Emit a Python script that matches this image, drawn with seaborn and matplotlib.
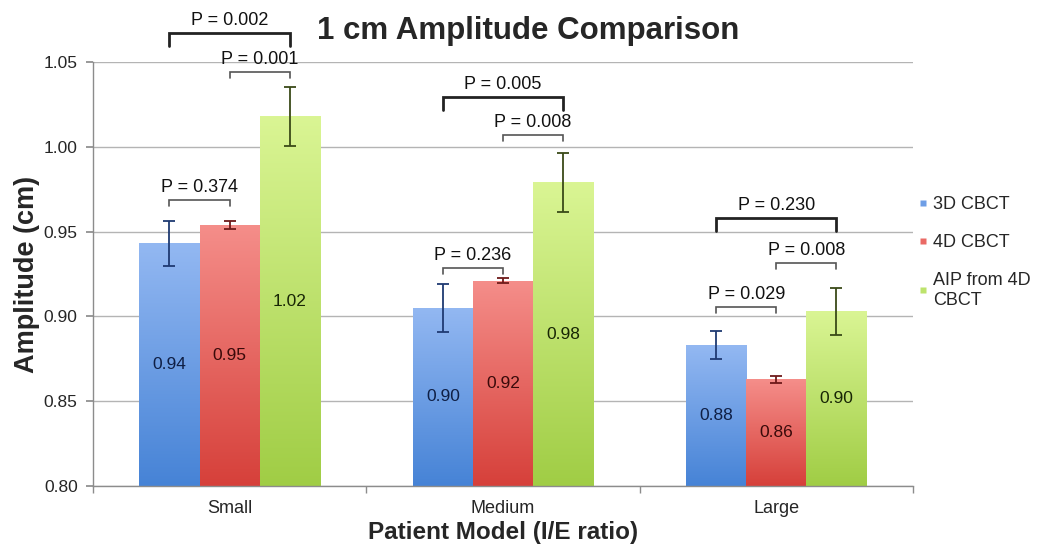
import numpy as np
import pandas as pd
import matplotlib
matplotlib.use("Agg")
import matplotlib.pyplot as plt
from matplotlib.colors import to_rgb
from matplotlib.lines import Line2D
import seaborn as sns

# ---------------- data ----------------
categories = ["Small", "Medium", "Large"]
methods = ["3D CBCT", "4D CBCT", "AIP from 4D\nCBCT"]
amp_3d = [0.943, 0.905, 0.883]
amp_4d = [0.954, 0.921, 0.863]
amp_aip = [1.018, 0.979, 0.903]
err_3d = [0.0135, 0.0143, 0.0083]
err_4d = [0.0025, 0.0015, 0.0020]
err_aip = [0.0175, 0.0174, 0.0138]
value_labels_3d = ["0.94", "0.90", "0.88"]
value_labels_4d = ["0.95", "0.92", "0.86"]
value_labels_aip = ["1.02", "0.98", "0.90"]
y_ticks = [0.80, 0.85, 0.90, 0.95, 1.00, 1.05]

# significance brackets: (category, method a, method b, bracket height, label, thick)
brackets = [
    (0, 0, 1, 0.9686, "P = 0.374", False),
    (0, 1, 2, 1.0441, "P = 0.001", False),
    (0, 0, 2, 1.0671, "P = 0.002", True),
    (1, 0, 1, 0.9285, "P = 0.236", False),
    (1, 1, 2, 1.0070, "P = 0.008", False),
    (1, 0, 2, 1.0294, "P = 0.005", True),
    (2, 0, 1, 0.9055, "P = 0.029", False),
    (2, 1, 2, 0.9315, "P = 0.008", False),
    (2, 0, 2, 0.9580, "P = 0.230", True),
]

# ---------------- style ----------------
sns.set_theme(style="white")
plt.rcParams["font.family"] = ["Liberation Sans", "DejaVu Sans"]

top_cols = ["#93b8f2", "#f58e8a", "#daf594"]
bot_cols = ["#4683d6", "#d6403a", "#a0cd45"]
mid_cols = ["#6e9ee6", "#ea6a65", "#bde36c"]
err_cols = ["#1f3a72", "#6e1a1a", "#3a4a18"]
txt_cols = ["#0f1f45", "#3a0a0a", "#182605"]

rows = []
amps = [amp_3d, amp_4d, amp_aip]
for mi, m in enumerate(methods):
    for ci, c in enumerate(categories):
        rows.append({"Patient Model": c, "Method": m, "Amplitude": amps[mi][ci]})
df = pd.DataFrame(rows)

fig = plt.figure(figsize=(10.41, 5.5), dpi=100)
ax = fig.add_axes([0.0893, 0.1164, 0.7877, 0.7709])

ymin, ymax = 0.80, 1.05
sns.barplot(data=df, x="Patient Model", y="Amplitude", hue="Method",
            order=categories, hue_order=methods, palette=mid_cols,
            width=0.66, errorbar=None, legend=False, ax=ax, zorder=2,
            linewidth=0)

bar_containers = list(ax.containers)[:len(methods)]
errs = [err_3d, err_4d, err_aip]
vlabels = [value_labels_3d, value_labels_4d, value_labels_aip]
centers = {}
for mi, cont in enumerate(bar_containers):
    c_top = np.array(to_rgb(top_cols[mi]))
    c_bot = np.array(to_rgb(bot_cols[mi]))
    t = np.linspace(0, 1, 256)[:, None]
    grad = (c_top[None, :] * (1 - t) + c_bot[None, :] * t)[:, None, :]
    for ci, bar in enumerate(cont.patches):
        x0 = bar.get_x()
        w = bar.get_width()
        h = bar.get_y() + bar.get_height()
        im = ax.imshow(grad, extent=[x0, x0 + w, ymin, h], aspect="auto",
                       zorder=2.5, interpolation="bilinear")
        im.set_clip_path(bar)
        xc = x0 + w / 2
        centers[(ci, mi)] = xc
        ax.errorbar([xc], [h], yerr=[errs[mi][ci]], fmt="none",
                    ecolor=err_cols[mi], elinewidth=1.3, capsize=4,
                    capthick=1.3, zorder=4)
        ax.text(xc, (ymin + h) / 2, vlabels[mi][ci], ha="center", va="center",
                fontsize=12.5, color=txt_cols[mi], zorder=5)

ax.set_xlim(-0.5, 2.5)
ax.set_ylim(ymin, ymax)
ax.set_yticks(y_ticks)
ax.set_yticklabels([f"{v:.2f}" for v in y_ticks])
ax.yaxis.grid(True, color="#b4b4b4", linewidth=1.0, zorder=0)
ax.set_axisbelow(True)
for s in ["top", "right"]:
    ax.spines[s].set_visible(False)
for s in ["left", "bottom"]:
    ax.spines[s].set_color("#8c8c8c")
    ax.spines[s].set_linewidth(1.0)
ax.tick_params(axis="y", which="major", direction="out", length=5,
               color="#8c8c8c", labelsize=12.5, left=True, pad=6)
ax.set_xticks(range(len(categories)))
ax.set_xticks([-0.5, 0.5, 1.5, 2.5], minor=True)
ax.tick_params(axis="x", which="major", length=0, labelsize=13, pad=10)
ax.tick_params(axis="x", which="minor", direction="out", length=5,
               color="#8c8c8c", bottom=True)

ax.set_xlabel("Patient Model (I/E ratio)", fontsize=17.5, fontweight="bold",
              labelpad=3)
ax.set_ylabel("Amplitude (cm)", fontsize=19.5, fontweight="bold", labelpad=3)

fig.text(0.507, 0.943, "1 cm Amplitude Comparison", ha="center", va="center",
         fontsize=22.5, fontweight="bold")

# significance brackets
for ci, a, b, yb, lab, thick in brackets:
    xa = centers[(ci, a)]
    xb = centers[(ci, b)]
    drop = 0.0075 if thick else 0.0038
    lw = 2.0 if thick else 1.2
    col = "#222222" if thick else "#555555"
    ax.plot([xa, xa, xb, xb], [yb - drop, yb, yb, yb - drop], color=col,
            lw=lw, clip_on=False, zorder=6, solid_joinstyle="miter")
    ax.annotate(lab, xy=((xa + xb) / 2, yb), xytext=(0, 3),
                textcoords="offset points", ha="center", va="bottom",
                fontsize=13, color="#111111", annotation_clip=False)

# legend
handles = [Line2D([0], [0], marker="s", linestyle="none", markersize=5,
                  markerfacecolor=mid_cols[i], markeredgecolor="none")
           for i in range(len(methods))]
fig.legend(handles, methods, loc="upper left", bbox_to_anchor=(0.872, 0.656),
           frameon=False, fontsize=13, handletextpad=0.1, labelspacing=1.15,
           handlelength=0.9, borderaxespad=0)

fig.savefig("out.png", dpi=100)
